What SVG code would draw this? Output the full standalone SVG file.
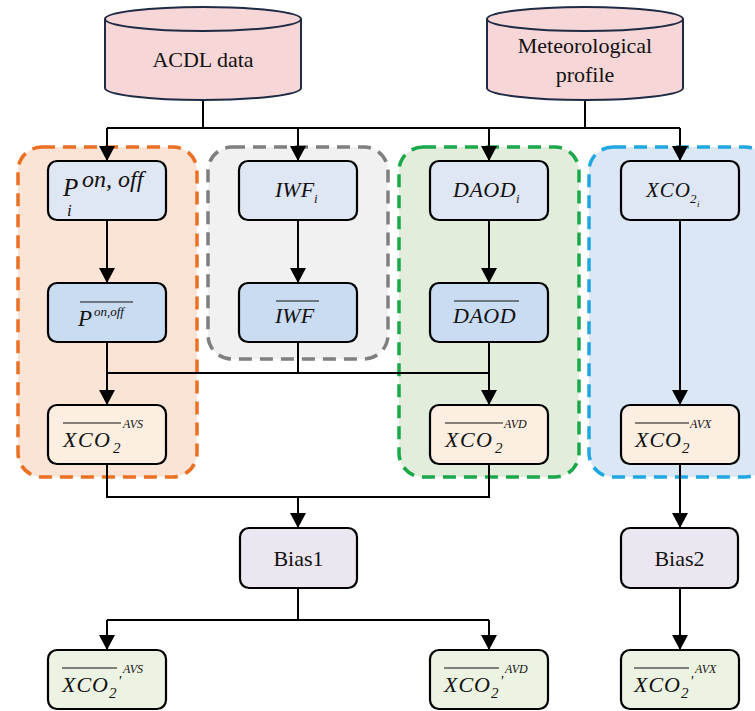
<svg xmlns="http://www.w3.org/2000/svg" width="755" height="711" viewBox="0 0 755 711">
<defs>
<style>
.grp{stroke-width:3.5;stroke-dasharray:13 8;}
.box{stroke:#000;stroke-width:2.2;}
.r1{fill:#dfe7f4;}
.r2{fill:#c9dcf1;}
.r3{fill:#fdeee2;}
.bias{fill:#ebe6f0;}
.out{fill:#edf3e2;}
.cyl{fill:#f7d6d7;stroke:#1f2a44;stroke-width:2;}
.m{font-family:"Liberation Serif","Times New Roman",serif;font-style:italic;fill:#111;}
.t{font-family:"Liberation Serif","Times New Roman",serif;fill:#111;font-size:22px;}
.ol{stroke:#111;stroke-width:1.2;}
.c{fill:none;stroke:#000;stroke-width:2;}
.a{marker-end:url(#ah);}
</style>
<marker id="ah" markerWidth="16" markerHeight="16" refX="15" refY="8" orient="auto" markerUnits="userSpaceOnUse">
<path d="M0,0 L15,8 L0,16 Z" fill="#000"/>
</marker>
</defs>
<rect width="755" height="711" fill="#fff"/>

<g id="group-orange"><rect class="grp" x="18" y="147" width="179" height="330" rx="24" fill="#fbe4d5" stroke="#ec7022"/></g>
<g id="group-gray"><rect class="grp" x="208" y="147" width="180" height="212" rx="24" fill="#f1f1f1" stroke="#7f7f7f"/></g>
<g id="group-green"><rect class="grp" x="399" y="147" width="180" height="330" rx="24" fill="#e2eedb" stroke="#1aa84a"/></g>
<g id="group-blue"><rect class="grp" x="589" y="147" width="180" height="330" rx="24" fill="#dbe7f4" stroke="#1ea7e1"/></g>

<g id="connectors">
<path class="c" d="M203 100 V128 M585 100 V128 M107 128 H680"/>
<path class="c a" d="M107 128 V161"/>
<path class="c a" d="M298 128 V161"/>
<path class="c a" d="M489 128 V161"/>
<path class="c a" d="M680 128 V161"/>
<path class="c a" d="M107 220 V283"/>
<path class="c a" d="M298 220 V283"/>
<path class="c a" d="M489 220 V283"/>
<path class="c" d="M298 342 V373 M107 373 H489"/>
<path class="c a" d="M107 342 V405"/>
<path class="c a" d="M489 342 V405"/>
<path class="c a" d="M680 220 V405"/>
<path class="c" d="M107 464 V497 H489 V464"/>
<path class="c a" d="M298 497 V528"/>
<path class="c a" d="M680 464 V528"/>
<path class="c" d="M298 588 V620 M107 620 H489"/>
<path class="c a" d="M107 620 V650"/>
<path class="c a" d="M489 620 V650"/>
<path class="c a" d="M680 588 V650"/>
</g>

<g id="acdl-data">
<path class="cyl" d="M105 19 V88 A98 12 0 0 0 301 88 V19"/>
<ellipse class="cyl" cx="203" cy="19" rx="98" ry="12"/>
<text class="t" x="203" y="67" text-anchor="middle" font-size="23">ACDL data</text>
</g>
<g id="meteorological-profile">
<path class="cyl" d="M487 19 V88 A98 12 0 0 0 683 88 V19"/>
<ellipse class="cyl" cx="585" cy="19" rx="98" ry="12"/>
<text class="t" x="585" y="53" text-anchor="middle">Meteorological</text>
<text class="t" x="585" y="82" text-anchor="middle">profile</text>
</g>

<g id="p-i">
<rect class="box r1" x="48" y="161" width="118" height="59" rx="9"/>
<text class="m"><tspan x="63" y="196" font-size="25">P</tspan><tspan x="67" y="216" font-size="17">i</tspan><tspan x="82" y="187" font-size="24">on, off</tspan></text>
</g>
<g id="iwf-i">
<rect class="box r1" x="239" y="161" width="118" height="59" rx="9"/>
<text class="m"><tspan x="275" y="197" font-size="22">IWF</tspan><tspan x="314" y="203" font-size="13">i</tspan></text>
</g>
<g id="daod-i">
<rect class="box r1" x="430" y="161" width="118" height="59" rx="9"/>
<text class="m"><tspan x="453" y="197" font-size="22" letter-spacing="0.5">DAOD</tspan><tspan x="516" y="203" font-size="13">i</tspan></text>
</g>
<g id="xco2-i">
<rect class="box r1" x="621" y="161" width="118" height="59" rx="9"/>
<text class="m"><tspan x="646" y="197" font-size="21" letter-spacing="1">XCO</tspan><tspan x="690" y="203" font-size="13">2</tspan><tspan x="697" y="207" font-size="9">i</tspan></text>
</g>

<g id="p-mean">
<rect class="box r2" x="48" y="283" width="118" height="59" rx="9"/>
<line class="ol" x1="80" y1="302" x2="133" y2="302"/>
<text class="m"><tspan x="78" y="326" font-size="23">P</tspan><tspan x="94" y="316" font-size="13">on,off</tspan></text>
</g>
<g id="iwf-mean">
<rect class="box r2" x="239" y="283" width="118" height="59" rx="9"/>
<line class="ol" x1="276" y1="301" x2="319" y2="301"/>
<text class="m" x="275" y="323" font-size="22">IWF</text>
</g>
<g id="daod-mean">
<rect class="box r2" x="430" y="283" width="118" height="59" rx="9"/>
<line class="ol" x1="454" y1="301" x2="519" y2="301"/>
<text class="m" x="453" y="323" font-size="22" letter-spacing="0.5">DAOD</text>
</g>

<g id="xco2-avs">
<rect class="box r3" x="48" y="405" width="118" height="59" rx="9"/>
<line class="ol" x1="63" y1="423" x2="121" y2="423"/>
<text class="m"><tspan x="63" y="447" font-size="22" letter-spacing="1.5">XCO</tspan><tspan x="113" y="453" font-size="15">2</tspan><tspan x="123" y="428" font-size="12">AVS</tspan></text>
</g>
<g id="xco2-avd">
<rect class="box r3" x="430" y="405" width="118" height="59" rx="9"/>
<line class="ol" x1="445" y1="423" x2="503" y2="423"/>
<text class="m"><tspan x="445" y="447" font-size="22" letter-spacing="1.5">XCO</tspan><tspan x="495" y="453" font-size="15">2</tspan><tspan x="504" y="428" font-size="12">AVD</tspan></text>
</g>
<g id="xco2-avx">
<rect class="box r3" x="621" y="405" width="118" height="59" rx="9"/>
<line class="ol" x1="635" y1="423" x2="689" y2="423"/>
<text class="m"><tspan x="635" y="447" font-size="22" letter-spacing="1">XCO</tspan><tspan x="682" y="453" font-size="15">2</tspan><tspan x="690" y="428" font-size="12">AVX</tspan></text>
</g>

<g id="bias1">
<rect class="box bias" x="240" y="528" width="117" height="60" rx="9"/>
<text class="t" x="298.5" y="566" text-anchor="middle">Bias1</text>
</g>
<g id="bias2">
<rect class="box bias" x="621" y="528" width="117" height="60" rx="9"/>
<text class="t" x="679.5" y="566" text-anchor="middle">Bias2</text>
</g>

<g id="xco2p-avs">
<rect class="box out" x="48" y="650" width="118" height="59" rx="9"/>
<line class="ol" x1="62" y1="668" x2="117" y2="668"/>
<text class="m"><tspan x="62" y="692" font-size="22" letter-spacing="1">XCO</tspan><tspan x="109" y="698" font-size="15">2</tspan><tspan x="118" y="686" font-size="15">'</tspan><tspan x="123" y="673" font-size="12">AVS</tspan></text>
</g>
<g id="xco2p-avd">
<rect class="box out" x="430" y="650" width="118" height="59" rx="9"/>
<line class="ol" x1="444" y1="668" x2="499" y2="668"/>
<text class="m"><tspan x="444" y="692" font-size="22" letter-spacing="1">XCO</tspan><tspan x="491" y="698" font-size="15">2</tspan><tspan x="500" y="686" font-size="15">'</tspan><tspan x="505" y="673" font-size="12">AVD</tspan></text>
</g>
<g id="xco2p-avx">
<rect class="box out" x="621" y="650" width="118" height="59" rx="9"/>
<line class="ol" x1="634" y1="668" x2="689" y2="668"/>
<text class="m"><tspan x="634" y="692" font-size="22" letter-spacing="1">XCO</tspan><tspan x="681" y="698" font-size="15">2</tspan><tspan x="690" y="686" font-size="15">'</tspan><tspan x="695" y="673" font-size="12">AVX</tspan></text>
</g>
</svg>
